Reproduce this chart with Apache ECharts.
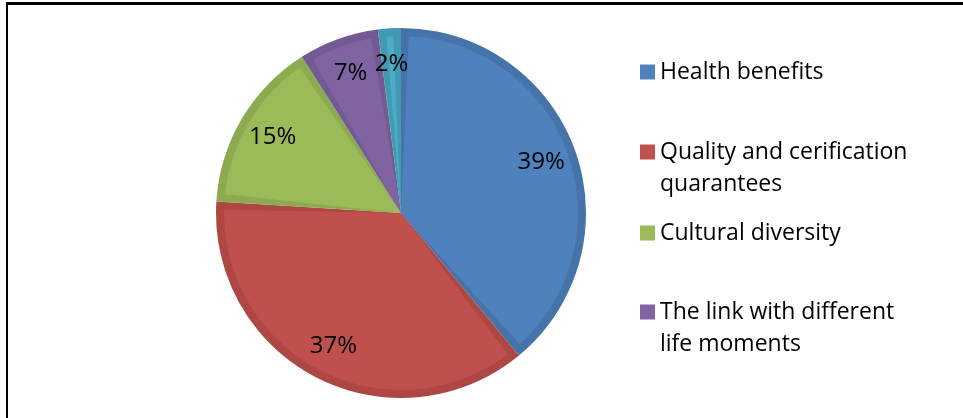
<!DOCTYPE html>
<html>
<head>
<meta charset="utf-8">
<script src="https://cdn.jsdelivr.net/npm/echarts@6/dist/echarts.min.js"></script>
<style>
  html, body { margin: 0; padding: 0; background: #fff; }
  #wrap { position: relative; width: 963px; height: 418px; overflow: hidden; }
  #frame { position: absolute; left: 6px; top: 2px; right: -10px; bottom: -10px;
           border-top: 3px solid #000; border-left: 2px solid #000; pointer-events: none; z-index: 2; }
  #chart { position: absolute; left: 0; top: 0; width: 963px; height: 418px; }
</style>
</head>
<body>
<div id="wrap">
  <div id="chart"></div>
  <div id="frame"></div>
</div>
<script>
// ---- data ----
const categories = ['Health benefits', 'Quality and cerification quarantees', 'Cultural diversity', 'The link with different life moments', 'Other'];
const legendLabels = ['Health benefits', 'Quality and cerification\nquarantees', 'Cultural diversity', 'The link with different\nlife moments'];
const values = [39, 37, 15, 7, 2];
const fillColors = ['#4F81BD', '#C0504D', '#9BBB59', '#8064A2', '#4BACC6'];
const bandColors = ['#4673AA', '#AE4744', '#8CAA4F', '#735A93', '#4299B2'];

const chart = echarts.init(document.getElementById('chart'), null, { renderer: 'canvas' });
const FONT = '"Open Sans", "Noto Sans", sans-serif';
const center = [401, 213];

const baseData = categories.map((n, i) => ({ name: n, value: values[i], itemStyle: { color: bandColors[i] } }));
const innerData = categories.map((n, i) => ({ name: n, value: values[i], itemStyle: { color: fillColors[i] } }));
const labelData = categories.map((n, i) => ({ name: n, value: values[i] }));

// icon centre y of each legend entry
const legendCenters = [72, 152, 233, 312];
const legends = legendLabels.map((lab, i) => {
  const multi = lab.indexOf('\n') >= 0;
  return {
    data: [categories[i]],
    left: 640,
    top: legendCenters[i] - (multi ? 48 : 16),
    orient: 'vertical',
    padding: 0,
    itemWidth: 15,
    itemHeight: 15,
    icon: 'rect',
    selectedMode: false,
    formatter: () => (multi ? ' \n' + lab : lab),
    textStyle: { fontFamily: FONT, fontSize: 23, color: '#000', lineHeight: 32 },
    itemStyle: { color: fillColors[i] }
  };
});

chart.setOption({
  animation: false,
  backgroundColor: '#fff',
  legend: legends,
  series: [
    {
      type: 'pie', center: center, radius: [0, 185], startAngle: 90, clockwise: true,
      silent: true, label: { show: false }, labelLine: { show: false },
      data: baseData
    },
    {
      type: 'pie', center: center, radius: [0, 177], startAngle: 90, clockwise: true,
      padAngle: 5,
      silent: true, label: { show: false }, labelLine: { show: false },
      data: innerData
    },
    {
      type: 'pie', center: center, radius: [107, 185], startAngle: 90, clockwise: true,
      silent: true,
      itemStyle: { color: 'rgba(0,0,0,0)' },
      label: { show: true, position: 'inside', fontFamily: FONT, fontSize: 24, color: '#000',
               formatter: p => p.value + '%' },
      labelLine: { show: false },
      data: labelData
    }
  ]
});
</script>
</body>
</html>
